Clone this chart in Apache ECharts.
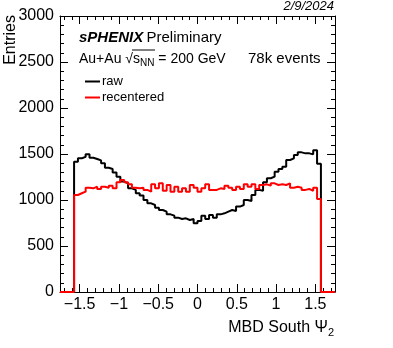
<!DOCTYPE html>
<html>
<head>
<meta charset="utf-8">
<script src="https://cdn.jsdelivr.net/npm/echarts@6/dist/echarts.min.js"></script>
<style>
  html, body { margin: 0; padding: 0; background: #fff; }
  #chart { width: 393px; height: 348px; }
</style>
</head>
<body>
<div id="chart"></div>
<script>
// MBD South event-plane angle Psi_2, 64 bins over [-pi/2, pi/2]
const psiMin = -Math.PI / 2;
const psiMax = Math.PI / 2;
const axisMin = -1.75;
const axisMax = 1.75;

const rawCounts = [
  1417, 1453, 1470, 1496, 1460, 1446, 1430, 1400, 1350, 1337,
  1300, 1254, 1200, 1181, 1127, 1110, 1073, 1048, 1000, 964,
  946, 917, 891, 873, 844, 830, 808, 793, 801, 783,
  793, 746, 772, 830, 793, 837, 808, 844, 855, 873,
  891, 880, 928, 946, 1000, 990, 1054, 1110, 1100, 1193,
  1236, 1254, 1308, 1337, 1362, 1435, 1453, 1489, 1518, 1507,
  1507, 1496, 1540, 1395
];

const recenteredCounts = [
  1054, 1073, 1091, 1134, 1127, 1145, 1120, 1145, 1134, 1156,
  1127, 1193, 1218, 1193, 1170, 1134, 1127, 1134, 1110, 1091,
  1170, 1127, 1181, 1100, 1163, 1091, 1145, 1091, 1127, 1091,
  1163, 1134, 1091, 1127, 1170, 1110, 1110, 1127, 1120, 1156,
  1134, 1110, 1145, 1120, 1170, 1145, 1170, 1120, 1163, 1170,
  1156, 1181, 1163, 1170, 1163, 1181, 1134, 1145, 1134, 1110,
  1120, 1100, 1134, 1010
];

const xMajorTicks = [-1.5, -1, -0.5, 0, 0.5, 1, 1.5];
const xMinorTicks = [];
for (let k = -17; k <= 17; k++) {
  if (k % 5 !== 0) xMinorTicks.push(k / 10);
}

// Histogram outline as step points at the bin low edges
function histSteps(counts) {
  const w = (psiMax - psiMin) / counts.length;
  const pts = [[axisMin, 0]];
  counts.forEach((c, i) => pts.push([psiMin + i * w, c]));
  pts.push([psiMax, 0]);
  pts.push([axisMax, 0]);
  return pts;
}

const FONT = 'Liberation Sans, Arial, Helvetica, sans-serif';
const black = '#000000';

function xAxisDef(position, ticks, len, withLine, withLabels) {
  return {
    type: 'value', min: axisMin, max: axisMax, position: position,
    axisLine: { show: withLine, onZero: false, lineStyle: { color: black, width: 1 } },
    axisTick: { show: true, inside: true, length: len, customValues: ticks,
                lineStyle: { color: black, width: 1 } },
    axisLabel: withLabels ? {
      show: true, customValues: xMajorTicks, color: black, fontSize: 16,
      fontFamily: FONT, margin: 5,
      formatter: v => String(v).replace('-', '\u2212')
    } : { show: false },
    splitLine: { show: false }
  };
}

function yAxisDef(position, withLabels) {
  return {
    type: 'value', min: 0, max: 3000, interval: 500, position: position,
    axisLine: { show: true, onZero: false, lineStyle: { color: black, width: 1 } },
    axisTick: { show: true, inside: true, length: 8, lineStyle: { color: black, width: 1 } },
    minorTick: { show: true, splitNumber: 5, length: 4, lineStyle: { color: black, width: 1 } },
    axisLabel: withLabels ? { show: true, color: black, fontSize: 16, fontFamily: FONT, margin: 6,
                              formatter: v => String(v) }
                          : { show: false },
    splitLine: { show: false },
    minorSplitLine: { show: false }
  };
}

const chart = echarts.init(document.getElementById('chart'), null, { renderer: 'canvas' });

chart.setOption({
  animation: false,
  backgroundColor: '#ffffff',
  grid: { left: 60, right: 58, top: 16, bottom: 56, containLabel: false },
  xAxis: [
    xAxisDef('bottom', xMajorTicks, 8, true, true),
    xAxisDef('bottom', xMinorTicks, 4, false, false),
    xAxisDef('top', xMajorTicks, 8, true, false),
    xAxisDef('top', xMinorTicks, 4, false, false)
  ],
  yAxis: [yAxisDef('left', true), yAxisDef('right', false)],
  legend: {
    show: true, orient: 'vertical', left: 80, top: 70,
    itemWidth: 15, itemHeight: 2, itemGap: 3,
    icon: 'rect',
    textStyle: { color: black, fontSize: 13, fontFamily: FONT, padding: [0, 0, 0, -3] },
    data: ['raw', 'recentered']
  },
  series: [
    {
      name: 'raw', type: 'line', step: 'end', xAxisIndex: 0, yAxisIndex: 0,
      data: histSteps(rawCounts), showSymbol: false, symbol: 'none',
      lineStyle: { color: black, width: 2 }, itemStyle: { color: black }
    },
    {
      name: 'recentered', type: 'line', step: 'end', xAxisIndex: 0, yAxisIndex: 0,
      data: histSteps(recenteredCounts), showSymbol: false, symbol: 'none',
      lineStyle: { color: '#ff0000', width: 2 }, itemStyle: { color: '#ff0000' }
    }
  ],
  graphic: [
    {
      type: 'text', left: 'auto', right: 59, top: 0,
      style: { text: '2/9/2024', font: 'italic 13px ' + FONT, fill: black }
    },
    {
      type: 'text', x: 11, y: 15, rotation: Math.PI / 2,
      style: { text: 'Entries', font: '16px ' + FONT, fill: black,
               align: 'right', verticalAlign: 'middle' }
    },
    {
      type: 'text', x: 79, y: 38,
      style: {
        text: '{b|sPHENIX} {n|Preliminary}', verticalAlign: 'middle',
        rich: {
          b: { font: 'italic bold 15px ' + FONT, fill: black },
          n: { font: '15px ' + FONT, fill: black }
        }
      }
    },
    {
      type: 'text', x: 79, y: 59,
      style: {
        text: '{n|Au+Au }{r|\u221A}{n|s}{s|NN}{n| = 200 GeV}', verticalAlign: 'middle',
        rich: {
          n: { font: '14px ' + FONT, fill: black },
          r: { font: '14px ' + FONT, fill: black },
          s: { font: '10px ' + FONT, fill: black, padding: [9, 0, 0, 0] }
        }
      }
    },
    {
      type: 'line', shape: { x1: 132, y1: 50, x2: 155, y2: 50 },
      style: { stroke: black, lineWidth: 1 }
    },
    {
      type: 'text', x: 248, y: 59,
      style: { text: '78k events', font: '15px ' + FONT, fill: black, verticalAlign: 'middle' }
    },
    {
      type: 'text', right: 59, top: 320,
      style: {
        text: '{n|MBD South \u03A8}{s|2}',
        rich: {
          n: { font: '16px ' + FONT, fill: black },
          s: { font: '11px ' + FONT, fill: black, padding: [10, 0, 0, 0] }
        }
      }
    }
  ]
});
</script>
</body>
</html>
